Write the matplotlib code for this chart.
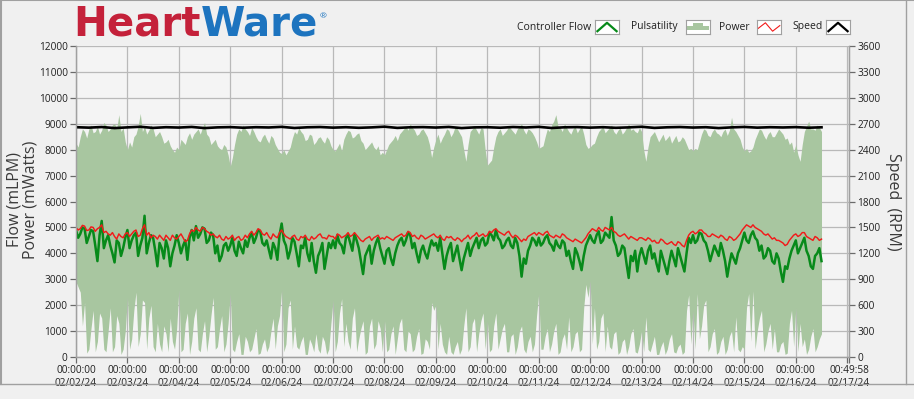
import numpy as np
import pandas as pd
import matplotlib
matplotlib.use("Agg")
import matplotlib.pyplot as plt
from matplotlib.lines import Line2D

# values, one sample per hour from 02/02/24 00:00 (one row = one day)
flow = [4900, 4600, 4750, 5000, 4950, 4400, 4650, 4900, 4850, 4300, 3700, 4700, 5250, 4200, 4500, 4700, 4300, 4000, 3650, 4500, 4400, 3900, 4200, 4600,
        4900, 4200, 4500, 4700, 4800, 3900, 4300, 4600, 5450, 4000, 4400, 4700, 4600, 4100, 3500, 4400, 4200, 3800, 4500, 4200, 3500, 4000, 4300, 4700,
        4400, 4000, 4300, 4500, 3750, 4600, 4900, 4500, 5050, 4600, 4750, 5000, 4950, 4400, 4500, 4800, 4700, 4000, 4300, 3700, 3900, 4300, 4400, 4100,
        4300, 4600, 4100, 3900, 4450, 4200, 4000, 4500, 4250, 4600, 4800, 4400, 4600, 4900, 4850, 4400, 4300, 4500, 4150, 3800, 4400, 4200, 3750, 4700,
        5150, 4500, 4300, 3800, 4100, 4600, 4450, 4000, 3500, 4300, 4200, 4600, 4000, 3700, 4400, 3700, 3250, 3900, 4100, 4400, 3400, 3900, 4400, 4200,
        4500, 4200, 4700, 4400, 4300, 4000, 4600, 4700, 4400, 4100, 4750, 4500, 4200, 3700, 3200, 3900, 4100, 4300, 3600, 4100, 4400, 4600, 4200, 3900,
        3600, 4100, 4200, 3800, 3550, 4000, 4300, 4500, 4600, 4300, 4500, 4800, 4700, 4200, 4400, 4000, 3650, 4100, 4300, 4000, 3800, 4200, 4500, 4300,
        4400, 4100, 4600, 4000, 3400, 3900, 4200, 4400, 3700, 4000, 4300, 3800, 3350, 3800, 4100, 4400, 3900, 4200, 4400, 4600, 4200, 4500, 4600, 4300,
        4400, 4800, 4700, 4500, 4900, 4600, 4500, 4200, 4300, 4500, 4600, 4300, 4200, 4600, 4400, 3900, 3100, 3800, 3600, 4100, 4300, 4600, 4500, 4300,
        4600, 4300, 4400, 4600, 4700, 4400, 4300, 4100, 4500, 4300, 4200, 4500, 4400, 3900, 4100, 3700, 3400, 4200, 4000, 3700, 3350, 3900, 4300, 4500,
        4700, 4500, 4400, 4700, 4850, 4400, 4500, 4800, 4700, 4600, 5400, 4500, 4300, 3900, 4000, 4300, 4200, 3600, 3050, 3900, 3700, 4100, 3300, 3900,
        4200, 3900, 3600, 4100, 4300, 3800, 4000, 3600, 3300, 4100, 3800, 3500, 3200, 3700, 4100, 3800, 3500, 4200, 3900, 3600, 3300, 4000, 4600, 4400,
        4700, 4400, 4500, 4800, 4750, 4500, 4400, 4100, 3700, 4000, 4300, 4100, 3900, 4400, 4100, 3700, 3100, 3600, 4000, 3800, 3600, 4000, 4200, 4500,
        4800, 4500, 4400, 4700, 4850, 4600, 4500, 4100, 4300, 3800, 3900, 4200, 4100, 3700, 3600, 4000, 3800, 3300, 2900, 3500, 3400, 3800, 4100, 4300,
        4500, 4000, 4200, 4400, 4600, 4100, 3900, 3500, 3400, 3900, 4000, 4200, 3700]

power = [5000, 4900, 4950, 5080, 5050, 4880, 4900, 5020, 5000, 4850, 4950, 5000, 5100, 4800, 4850, 4750, 4700, 4800, 4650, 4550, 4750, 4650, 4600, 4750,
         4800, 4650, 4750, 4850, 4900, 4650, 4700, 4950, 5100, 4700, 4800, 4600, 4700, 4650, 4550, 4700, 4600, 4500, 4700, 4600, 4500, 4700, 4600, 4550,
         4650, 4750, 4600, 4450, 4500, 4750, 4900, 4850, 5000, 4900, 4850, 5000, 4950, 4850, 4800, 4700, 4750, 4650, 4600, 4700, 4550, 4500, 4650, 4550,
         4600, 4700, 4500, 4600, 4650, 4500, 4550, 4700, 4600, 4750, 4850, 4700, 4800, 4950, 4900, 4750, 4700, 4800, 4650, 4550, 4750, 4650, 4600, 4800,
         4900, 4750, 4650, 4600, 4550, 4650, 4700, 4550, 4500, 4650, 4600, 4700, 4550, 4500, 4650, 4550, 4600, 4700, 4750, 4600, 4600, 4550, 4700, 4650,
         4650, 4550, 4750, 4700, 4600, 4650, 4700, 4800, 4650, 4700, 4800, 4700, 4600, 4500, 4450, 4550, 4600, 4650, 4500, 4600, 4650, 4700, 4550, 4600,
         4550, 4650, 4600, 4550, 4500, 4600, 4650, 4700, 4750, 4650, 4700, 4850, 4800, 4650, 4700, 4600, 4550, 4700, 4650, 4550, 4600, 4650, 4700, 4750,
         4650, 4600, 4700, 4550, 4500, 4650, 4600, 4650, 4550, 4500, 4600, 4550, 4450, 4550, 4600, 4700, 4550, 4650, 4700, 4800, 4650, 4700, 4750, 4650,
         4700, 4850, 4800, 4900, 4950, 4850, 4800, 4750, 4700, 4800, 4850, 4700, 4600, 4700, 4650, 4550, 4450, 4550, 4500, 4650, 4700, 4750, 4800, 4700,
         4800, 4750, 4700, 4800, 4850, 4700, 4650, 4600, 4700, 4650, 4600, 4750, 4700, 4600, 4550, 4500, 4450, 4550, 4500, 4450, 4400, 4500, 4600, 4750,
         4850, 4950, 4900, 4850, 5000, 4900, 4850, 5000, 4950, 4900, 5000, 4850, 4800, 4700, 4650, 4700, 4750, 4650, 4550, 4650, 4600, 4550, 4500, 4600,
         4600, 4550, 4500, 4600, 4550, 4450, 4500, 4400, 4400, 4550, 4500, 4400, 4350, 4400, 4450, 4350, 4300, 4450, 4400, 4300, 4250, 4500, 4700, 4800,
         4850, 4750, 4800, 4900, 4900, 4800, 4750, 4650, 4650, 4750, 4700, 4650, 4600, 4700, 4650, 4550, 4500, 4650, 4600, 4500, 4550, 4650, 4750, 4900,
         5000, 5100, 5050, 5000, 5100, 5000, 4950, 4900, 4850, 4750, 4700, 4750, 4650, 4550, 4600, 4500, 4500, 4450, 4400, 4300, 4350, 4500, 4600, 4700,
         4750, 4650, 4700, 4800, 4800, 4650, 4600, 4550, 4500, 4650, 4600, 4500, 4550]

# pulsatility band, lower and upper edge
puls_low = [2900, 2700, 2500, 1200, 2100, 150, 300, 1100, 1800, 200, 600, 1700, 1500, 300, 200, 1000, 1900, 200, 400, 1600, 1300, 100, 300, 1000,
            2300, 300, 700, 1800, 2500, 400, 900, 2200, 2100, 300, 1500, 2000, 400, 200, 1300, 500, 200, 1200, 900, 200, 1500, 600, 300, 1100,
            2600, 200, 300, 1300, 1700, 100, 600, 1500, 1900, 300, 200, 900, 1400, 200, 800, 1600, 2300, 300, 400, 1100, 1600, 200, 500, 1300,
            2450, 300, 200, 600, 900, 100, 100, 800, 600, 200, 300, 700, 1100, 100, 150, 500, 700, 200, 400, 1000, 1500, 300, 1200, 1600,
            2600, 200, 500, 1900, 2200, 300, 1200, 400, 300, 600, 800, 100, 100, 700, 500, 200, 900, 300, 150, 800, 600, 100, 300, 1300,
            2200, 200, 600, 1700, 2250, 400, 1300, 600, 300, 1500, 1900, 200, 700, 1100, 1400, 100, 200, 1200, 1500, 300, 500, 1400, 1100, 200,
            1400, 200, 300, 900, 1200, 100, 700, 1300, 1500, 300, 200, 1000, 900, 200, 300, 800, 1100, 100, 150, 700, 600, 300, 2100, 1800,
            2000, 300, 1300, 500, 200, 100, 800, 200, 100, 400, 600, 100, 300, 1200, 1900, 200, 400, 1300, 1500, 200, 900, 1400, 1700, 300,
            1400, 200, 300, 1200, 1700, 300, 700, 1100, 1300, 200, 200, 800, 900, 100, 400, 1000, 1200, 300, 150, 600, 800, 200, 500, 1600,
            2450, 300, 300, 800, 1100, 200, 500, 1000, 1300, 100, 200, 700, 900, 300, 1550, 200, 400, 900, 1000, 200, 300, 1900, 2800, 2300,
            2950, 500, 1900, 300, 600, 1500, 1700, 200, 1200, 400, 300, 900, 1000, 100, 200, 600, 700, 100, 400, 900, 1100, 200, 150, 500,
            1000, 200, 1550, 300, 200, 500, 800, 100, 100, 400, 600, 100, 300, 700, 900, 200, 150, 400, 500, 100, 200, 1800, 2400, 500,
            1800, 300, 2450, 700, 1200, 2000, 2200, 200, 400, 900, 1100, 100, 200, 600, 800, 100, 300, 800, 1000, 200, 1550, 300, 200, 400,
            300, 1900, 2450, 600, 2550, 300, 1000, 1500, 1800, 200, 500, 1000, 1300, 300, 1100, 200, 200, 500, 600, 100, 150, 1300, 1800, 400,
            1900, 200, 1300, 400, 700, 100, 300, 800, 1100, 200, 400, 700, 900]

puls_high = [8250, 8100, 8500, 8800, 8700, 8450, 8800, 8950, 8650, 8700, 8900, 8600, 8750, 9050, 8950, 8700, 8800, 8950, 9000, 8800, 9350, 8700, 8850, 8300,
             8000, 8300, 8100, 8500, 8600, 8900, 9400, 8700, 8900, 8600, 8750, 8950, 8800, 8500, 8600, 8700, 8500, 8250, 8300, 8400, 8150, 8000, 7900, 8100,
             8000, 8400, 8300, 8200, 8500, 8650, 8400, 8600, 8700, 8800, 8600, 8850, 9050, 8600, 8500, 8200, 8300, 8400, 8150, 8050, 8000, 8200, 8100, 7800,
             7350, 7700, 8200, 8600, 8800, 8700, 8950, 8800, 8700, 8550, 8850, 8700, 8500, 8350, 8300, 8500, 8600, 8400, 8250, 8550, 8450, 8200, 8050, 7900,
             7850, 8000, 7800, 7950, 8100, 8450, 8700, 8600, 8850, 8700, 8600, 8350, 8400, 8600, 8550, 8200, 8300, 8450, 8500, 8350, 8250, 8500, 8400, 8150,
             8000, 7950, 8100, 8250, 7950, 8400, 8600, 8750, 8700, 8450, 8500, 8600, 8650, 8350, 8250, 8000, 8100, 8200, 8300, 8100, 8000, 8150, 7800, 7900,
             7800, 8000, 8200, 8300, 8400, 8550, 8350, 8600, 8700, 8800, 8900, 8750, 9000, 8850, 8750, 8550, 8600, 8750, 8800, 8650, 8500, 8200, 7700, 8100,
             8400, 8600, 8250, 8450, 8600, 8800, 8750, 8500, 8650, 8900, 8800, 8650, 8500, 8000, 7550, 8200, 8700, 8800, 8900, 8750, 8600, 8850, 8800, 8000,
             7400, 7500, 7600, 8100, 8500, 8700, 8800, 8550, 8650, 8750, 8900, 8800, 8700, 8600, 8800, 8900, 9000, 8750, 8600, 8800, 8750, 8650, 8500, 8300,
             8050, 8100, 8150, 8500, 8800, 8700, 8950, 9100, 9350, 8900, 8850, 8700, 9000, 8850, 8700, 8600, 8800, 8900, 8650, 8800, 8900, 8600, 8200, 8050,
             8100, 8200, 8250, 8500, 8700, 8800, 8900, 8650, 8750, 8850, 8950, 8700, 8600, 8750, 8850, 8600, 8700, 8850, 9000, 8750, 8800, 8700, 8650, 8850,
             8700, 8000, 7550, 8100, 8500, 8600, 8700, 8500, 8300, 8450, 8600, 8350, 8450, 8550, 8250, 8400, 8550, 8300, 8350, 8500, 8400, 8200, 8000, 8050,
             7950, 8050, 8000, 8300, 8600, 8800, 8750, 8550, 8500, 8700, 8800, 8650, 8600, 8500, 8700, 8800, 8550, 8750, 9250, 8800, 8700, 8550, 8400, 8100,
             7950, 8050, 7900, 7950, 8100, 8400, 8600, 8800, 8750, 8550, 8400, 8600, 8700, 8500, 8500, 8650, 8800, 8700, 8600, 8400, 8450, 8200, 8300, 7900,
             8200, 7800, 7550, 8200, 8700, 8900, 9100, 8800, 8800, 8750, 8950, 8850, 8700]

# pump speed (RPM), one sample every 6 hours
speed = [2660, 2655, 2662, 2650, 2658, 2665, 2652, 2660, 2656, 2663,
         2650, 2658, 2661, 2654, 2660, 2657, 2664, 2651, 2659, 2662,
         2655, 2660, 2653, 2658, 2666, 2652, 2659, 2661, 2656, 2663,
         2650, 2658, 2660, 2654, 2662, 2657, 2664, 2651, 2659, 2661,
         2655, 2660, 2653, 2658, 2665, 2652, 2659, 2662, 2656, 2660,
         2650, 2658, 2663, 2655, 2660, 2657, 2661, 2654, 2659]

start = pd.Timestamp("2024-02-02 00:00:00")
end = pd.Timestamp("2024-02-17 00:49:58")
t_flow = pd.date_range(start, periods=len(flow), freq="1h")
t_power = pd.date_range(start, periods=len(power), freq="1h")
t_puls = pd.date_range(start, periods=len(puls_low), freq="1h")
t_speed = pd.date_range(start, periods=len(speed), freq="6h")

plt.rcParams["font.family"] = ["Open Sans", "DejaVu Sans"]
W, H = 914, 399
fig = plt.figure(figsize=(W / 100, H / 100), dpi=100, facecolor="#f0f0f0")

ax = fig.add_axes([76 / W, 42 / H, 773 / W, 311 / H])
ax.set_facecolor("#f4f4f4")
ax.fill_between(t_puls, puls_low, puls_high, color="#a8c6a0", lw=0, zorder=2)
ax.plot(t_flow, flow, color="#078a1a", lw=1.8, zorder=3)
ax.plot(t_power, power, color="#f21a1a", lw=1.05, zorder=4)
ax.set_xlim(start, end)
ax.set_ylim(0, 12000)
ax.set_yticks(np.arange(0, 12001, 1000))
ax.grid(True, color="#b9b9b9", lw=0.9)
ax.set_axisbelow(True)

days = pd.date_range("2024-02-02", "2024-02-17", freq="D")
ticks = list(days) + [end]
labels = [d.strftime("%H:%M:%S\n%m/%d/%y") for d in days[:-1]] + ["", end.strftime("%H:%M:%S\n%m/%d/%y")]
ax.set_xticks(ticks)
ax.set_xticklabels(labels, linespacing=1.15)

ax2 = ax.twinx()
ax2.plot(t_speed, speed, color="black", lw=1.9)
ax2.set_ylim(0, 3600)
ax2.set_yticks(np.arange(0, 3601, 300))

for a in (ax, ax2):
    a.tick_params(length=4, width=0.9, color="#6a6a6a", labelsize=7.3, labelcolor="#202020", pad=2)
    for s in a.spines.values():
        s.set_color("#a0a0a0")
        s.set_linewidth(0.9)
ax.spines["top"].set_visible(False)
ax2.spines["top"].set_visible(False)

fig.text(0.0246, 0.499, "Flow (mLPM)\nPower (mWatts)", rotation=90, ha="center", va="center",
         fontsize=11.5, color="#3a3a3a", linespacing=0.95)
fig.text(0.977, 0.494, "Speed  (RPM)", rotation=270, ha="center", va="center",
         fontsize=11.5, color="#3a3a3a")

# logo
fig.canvas.draw()
r = fig.canvas.get_renderer()
t1 = fig.text(73 / W, 1 - 36 / H, "Heart", fontsize=29, fontweight="bold", family="DejaVu Sans",
              color="#c4213a", va="baseline")
bb = t1.get_window_extent(r)
t2 = fig.text(bb.x1 / W, 1 - 36 / H, "Ware", fontsize=29, fontweight="bold", family="DejaVu Sans",
              color="#1d74bf", va="baseline")
bb = t2.get_window_extent(r)
fig.text(bb.x1 / W + 0.002, 1 - 18 / H, "®", fontsize=6, color="#1d74bf", va="baseline")

# legend
legend = [("Controller Flow", 517, 595), ("Pulsatility", 631, 686),
          ("Power", 719, 757), ("Speed", 792, 826)]
for name, tx, ix in legend:
    fig.text(tx / W, 1 - 27 / H, name, fontsize=7.5, color="#202020", va="center")
    li = fig.add_axes([ix / W, 1 - 34 / H, 24 / W, 14 / H])
    li.set_xlim(0, 1)
    li.set_ylim(0, 1)
    li.set_xticks([])
    li.set_yticks([])
    li.set_facecolor("white")
    for s in li.spines.values():
        s.set_color("#a0a0a0")
        s.set_linewidth(0.8)
    if name == "Controller Flow":
        li.plot([0.1, 0.5, 0.9], [0.2, 0.8, 0.2], color="#078a1a", lw=1.6)
    elif name == "Pulsatility":
        li.fill_between([0.05, 0.3, 0.3, 0.7, 0.7, 0.95], [0.3] * 6,
                        [0.55, 0.55, 0.8, 0.8, 0.55, 0.55], color="#a8c6a0", lw=0)
    elif name == "Power":
        li.plot([0.05, 0.35, 0.65, 0.95], [0.4, 0.8, 0.2, 0.6], color="#f21a1a", lw=0.8)
    else:
        li.plot([0.1, 0.5, 0.9], [0.2, 0.8, 0.2], color="black", lw=1.6)

# window frame
fig.add_artist(Line2D([0, 1], [1 - 384 / H] * 2, color="#a0a0a0", lw=1))
fig.add_artist(Line2D([906 / W] * 2, [1 - 384 / H, 1], color="#a0a0a0", lw=1))
fig.add_artist(Line2D([0, 1], [0.999, 0.999], color="#a0a0a0", lw=1.5))
fig.add_artist(Line2D([0.001, 0.001], [1 - 384 / H, 1], color="#a0a0a0", lw=1.5))

fig.savefig("out.png", dpi=100, facecolor=fig.get_facecolor())
